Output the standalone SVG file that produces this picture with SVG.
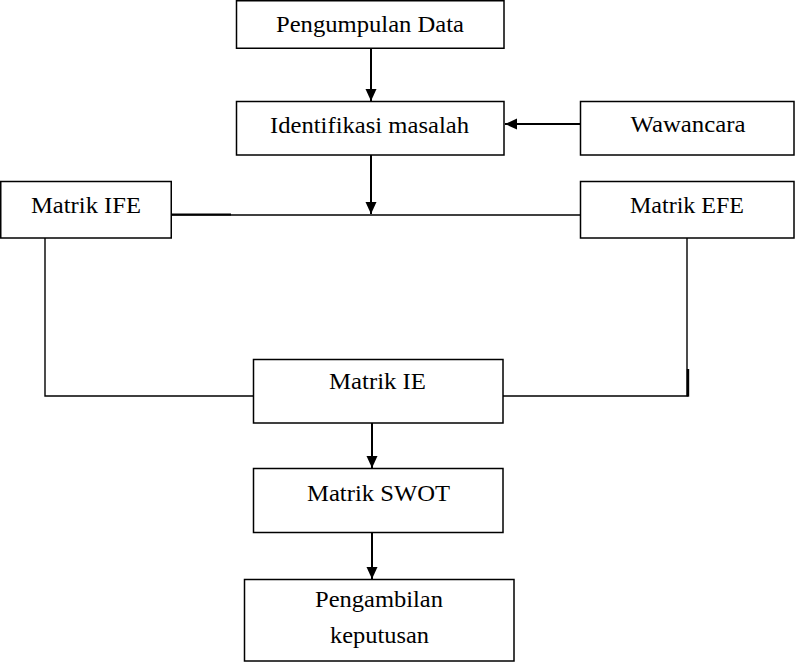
<svg xmlns="http://www.w3.org/2000/svg" width="795" height="662" viewBox="0 0 795 662">
<style>
.box{fill:#fff;stroke:#000;stroke-width:1.5}
.t{font-family:"Liberation Serif","Times New Roman",serif;font-size:23px;fill:#000;text-anchor:middle}
.ln{fill:none;stroke:#000;stroke-width:1.4}
.ar{fill:none;stroke:#000;stroke-width:2}
</style>
<defs>
<marker id="ah" markerUnits="userSpaceOnUse" markerWidth="12" markerHeight="12" viewBox="0 0 12 12" refX="12" refY="6" orient="auto">
<path d="M0,0.5 L12,6 L0,11.5 Z" fill="#000"/>
</marker>
</defs>
<rect width="795" height="662" fill="#fff"/>
<g id="connectors">
<line class="ar" x1="371" y1="48" x2="371" y2="101" marker-end="url(#ah)"/>
<line class="ar" x1="580" y1="124" x2="505" y2="124" marker-end="url(#ah)"/>
<line class="ar" x1="371" y1="155" x2="371" y2="214" marker-end="url(#ah)"/>
<line class="ln" x1="171" y1="215" x2="580" y2="215"/>
<line x1="171" y1="214.5" x2="231" y2="214.5" stroke="#000" stroke-width="2.2"/>
<polyline class="ln" points="45,238 45,396 253,396"/>
<polyline class="ln" points="687,238 687,396 503,396"/>
<line x1="688" y1="369" x2="688" y2="396.7" stroke="#000" stroke-width="2.4"/>
<line class="ar" x1="372" y1="423" x2="372" y2="468" marker-end="url(#ah)"/>
<line class="ar" x1="372" y1="533" x2="372" y2="579" marker-end="url(#ah)"/>
</g>
<g id="pengumpulan">
<rect class="box" x="236.5" y="0.75" width="267.5" height="47.5"/>
<text class="t" x="370" y="31.7" textLength="188" lengthAdjust="spacingAndGlyphs">Pengumpulan Data</text>
</g>
<g id="identifikasi">
<rect class="box" x="236.5" y="101.5" width="267.5" height="53.5"/>
<text class="t" x="369.5" y="132.7" textLength="199" lengthAdjust="spacingAndGlyphs">Identifikasi masalah</text>
</g>
<g id="wawancara">
<rect class="box" x="580.5" y="101.5" width="213.5" height="53.5"/>
<text class="t" x="688" y="131.7" textLength="115" lengthAdjust="spacingAndGlyphs">Wawancara</text>
</g>
<g id="ife">
<rect class="box" x="0.75" y="181.5" width="170.5" height="56.5"/>
<text class="t" x="86" y="212.7" textLength="110" lengthAdjust="spacingAndGlyphs">Matrik IFE</text>
</g>
<g id="efe">
<rect class="box" x="580.5" y="181.5" width="213.5" height="56.5"/>
<text class="t" x="687" y="212.7" textLength="114" lengthAdjust="spacingAndGlyphs">Matrik EFE</text>
</g>
<g id="ie">
<rect class="box" x="253.5" y="359.5" width="249.5" height="63.5"/>
<text class="t" x="377.5" y="389" textLength="97" lengthAdjust="spacingAndGlyphs">Matrik IE</text>
</g>
<g id="swot">
<rect class="box" x="253.5" y="468.5" width="249.5" height="64"/>
<text class="t" x="378.5" y="500.7" textLength="143" lengthAdjust="spacingAndGlyphs">Matrik SWOT</text>
</g>
<g id="pengambilan">
<rect class="box" x="244.5" y="579.5" width="269.5" height="81.5"/>
<text class="t" x="379" y="606.5" textLength="128" lengthAdjust="spacingAndGlyphs">Pengambilan</text>
<text class="t" x="379.5" y="643" textLength="99" lengthAdjust="spacingAndGlyphs">keputusan</text>
</g>
</svg>
